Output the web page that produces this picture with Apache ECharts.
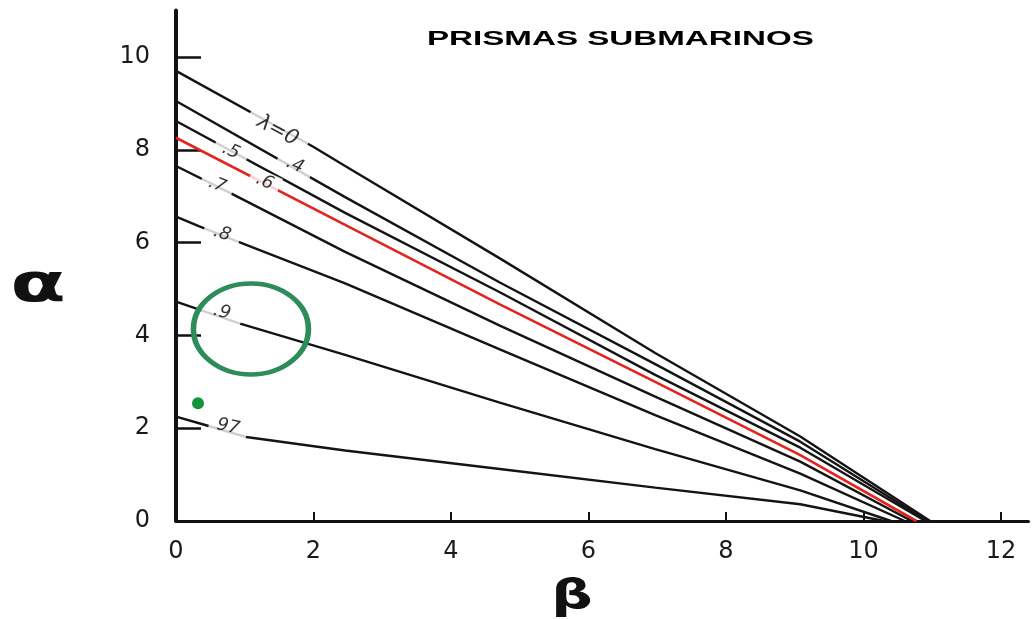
<!DOCTYPE html>
<html>
<head>
<meta charset="utf-8">
<title>Prismas submarinos</title>
<script src="https://cdn.jsdelivr.net/npm/echarts@6/dist/echarts.min.js"></script>
<style>
  html, body { margin: 0; padding: 0; background: #fff; }
  #chart { width: 1032px; height: 619px; }
</style>
</head>
<body>
<div id="chart"></div>
<script>
// Curves of alpha against beta, one per lambda value: [beta, alpha] pairs
const curveL0  = [[0, 9.70], [1.99, 8.07], [2.46, 7.65], [4.71, 5.66], [6.97, 3.62], [9.08, 1.82], [10.97, 0]];
const curveL04 = [[0, 9.05], [2.46, 6.98], [4.71, 5.14], [6.97, 3.38], [9.08, 1.71], [10.93, 0]];
const curveL05 = [[0, 8.62], [2.46, 6.64], [4.71, 4.93], [6.97, 3.15], [9.08, 1.58], [10.90, 0]];
const curveL06 = [[0, 8.26], [2.46, 6.38], [4.71, 4.67], [6.97, 3.00], [9.08, 1.42], [10.77, 0]];
const curveL07 = [[0, 7.65], [0.80, 7.06], [2.46, 5.80], [4.71, 4.21], [6.97, 2.68], [9.08, 1.28], [10.70, 0]];
const curveL08 = [[0, 6.56], [0.34, 6.35], [0.90, 6.02], [2.46, 5.12], [4.71, 3.70], [6.97, 2.28], [9.08, 1.02], [10.60, 0]];
const curveL09 = [[0, 4.73], [0.92, 4.26], [2.46, 3.58], [4.71, 2.55], [6.97, 1.55], [9.08, 0.66], [10.40, 0]];
const curveL097 = [[0, 2.25], [0.40, 2.08], [1.02, 1.81], [2.46, 1.52], [4.71, 1.12], [6.97, 0.72], [9.08, 0.36], [10.30, 0]];

// Curve labels and where they sit on each curve: [beta, alpha]
const curveNames = ['λ=0', '.4', '.5', '.6', '.7', '.8', '.9', '97'];
const labelAnchors = [[1.48, 8.41], [1.73, 7.67], [0.80, 7.97], [1.29, 7.31], [0.60, 7.24], [0.67, 6.19], [0.67, 4.50], [0.76, 2.03]];

// Highlighted region and marked point
const highlightCentre = [1.09, 4.14];
const markedPoint = [0.32, 2.54];

// Axis ticks
const xTicks = [0, 2, 4, 6, 8, 10, 12];
const yTicks = [0, 2, 4, 6, 8, 10];

const curves = [curveL0, curveL04, curveL05, curveL06, curveL07, curveL08, curveL09, curveL097];
const curveColors = ['#141414', '#141414', '#141414', '#e3241f', '#141414', '#141414', '#141414', '#141414'];
// label box: rotation (deg) and horizontal padding that opens a gap in the curve
const labelRotate = [-28, -24, -24, -24, -22, -18, -15, -12];
const labelPad = [11, 10, 9, 7, 8, 10, 12, 8];

const chart = echarts.init(document.getElementById('chart'), null, { renderer: 'canvas' });

const series = curves.map((d, i) => ({
  type: 'line',
  name: curveNames[i],
  data: d,
  showSymbol: false,
  smooth: false,
  z: 2,
  lineStyle: { color: curveColors[i], width: i === 3 ? 2.6 : 2.4 },
  emphasis: { disabled: true }
}));

series.push({
  type: 'scatter',
  z: 10,
  symbolSize: 1,
  itemStyle: { color: 'rgba(0,0,0,0)' },
  data: labelAnchors.map((p, i) => ({
    value: p,
    label: {
      show: true,
      position: 'inside',
      formatter: curveNames[i],
      rotate: labelRotate[i],
      fontFamily: 'DejaVu Sans',
      fontStyle: 'italic',
      fontWeight: 'normal',
      fontSize: i === 0 ? 21 : 18,
      color: '#000',
      backgroundColor: '#fff',
      padding: [1, labelPad[i], 1, labelPad[i]]
    }
  })),
  emphasis: { disabled: true }
});

series.push({
  type: 'scatter',
  z: 12,
  symbol: 'circle',
  symbolSize: [115, 91],
  itemStyle: { color: 'rgba(0,0,0,0)', borderColor: '#2c8c5a', borderWidth: 5, opacity: 1 },
  data: [highlightCentre],
  emphasis: { disabled: true }
});

series.push({
  type: 'scatter',
  z: 12,
  symbol: 'circle',
  symbolSize: 12,
  itemStyle: { color: '#10953a', opacity: 1 },
  data: [markedPoint],
  emphasis: { disabled: true }
});

chart.setOption({
  animation: false,
  backgroundColor: '#fff',
  grid: { left: 176, right: 3.5, top: 10.6, bottom: 98 },
  xAxis: {
    type: 'value',
    min: 0,
    max: 12.4,
    interval: 2,
    splitLine: { show: false },
    axisLine: { lineStyle: { color: '#111', width: 3 } },
    axisTick: { inside: true, length: 9, customValues: xTicks, lineStyle: { color: '#111', width: 2 } },
    axisLabel: { customValues: xTicks, margin: 19, fontFamily: 'DejaVu Sans', fontSize: 24, color: '#1a1a1a' }
  },
  yAxis: {
    type: 'value',
    min: 0,
    max: 11,
    interval: 1,
    splitLine: { show: false },
    axisLine: { lineStyle: { color: '#111', width: 4 } },
    axisTick: { inside: true, length: 25, customValues: yTicks, lineStyle: { color: '#111', width: 2.5 } },
    axisLabel: { customValues: yTicks, margin: 26, fontFamily: 'DejaVu Sans', fontSize: 24, color: '#1a1a1a' }
  },
  graphic: [
    {
      type: 'text', x: 427, y: 40, scaleX: 1.7, silent: true,
      style: { text: 'PRISMAS SUBMARINOS', x: 0, y: 0, align: 'left', verticalAlign: 'middle',
               font: 'bold 19.5px "Liberation Sans", Arial, sans-serif', fill: '#000' }
    },
    {
      type: 'text', x: 38, y: 287, scaleX: 1.5, silent: true,
      style: { text: 'α', x: 0, y: 0, align: 'center', verticalAlign: 'middle',
               font: 'bold 54px "DejaVu Sans", sans-serif', fill: '#111' }
    },
    {
      type: 'text', x: 572, y: 598, scaleX: 1.45, silent: true,
      style: { text: 'β', x: 0, y: 0, align: 'center', verticalAlign: 'middle',
               font: 'bold 40px "DejaVu Sans", sans-serif', fill: '#111' }
    }
  ],
  series: series
});
</script>
</body>
</html>
